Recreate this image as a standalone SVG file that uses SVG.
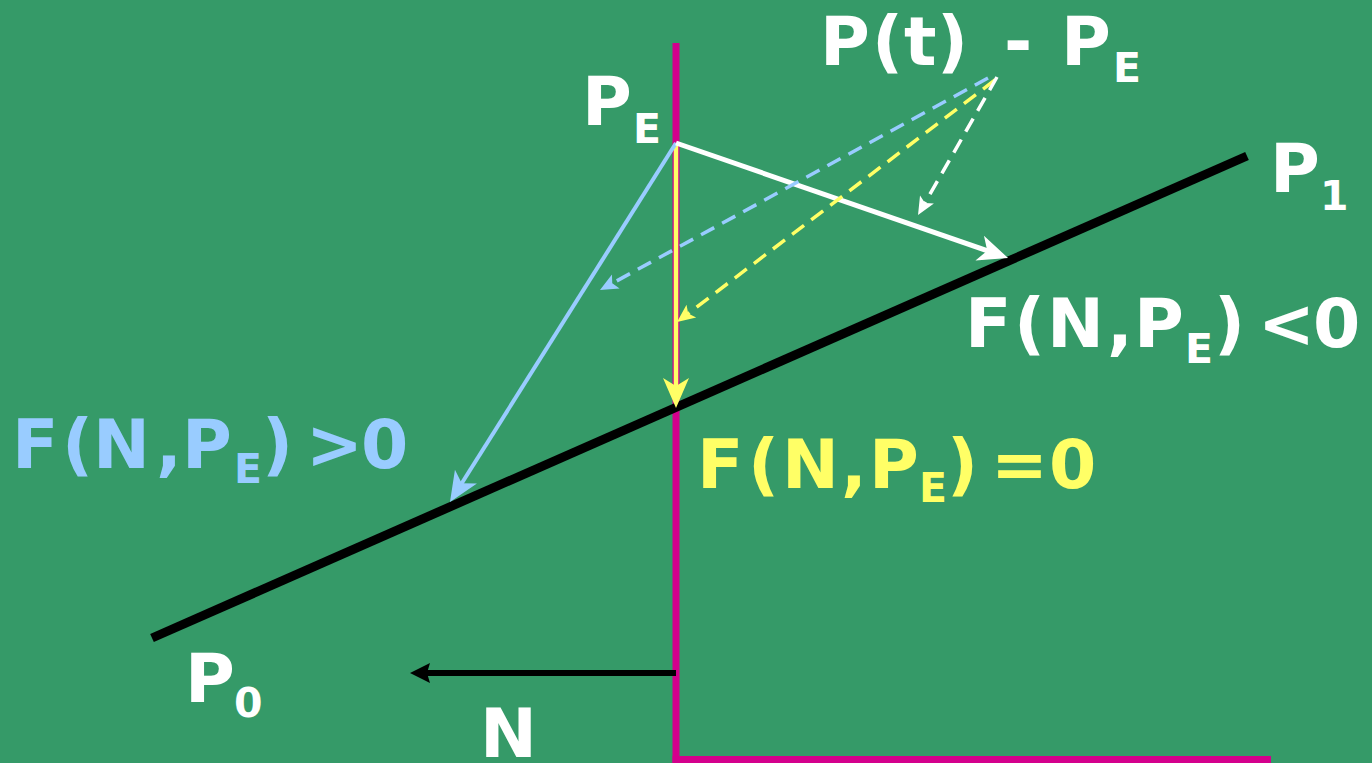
<svg xmlns="http://www.w3.org/2000/svg" width="1372" height="763" viewBox="0 0 1372 763">
<defs>
<style>
.t{font-family:"DejaVu Sans","Liberation Sans",sans-serif;font-weight:bold;font-size:68px}
.s{font-size:41px}
.w{fill:#ffffff}
.b{fill:#99ccff}
.y{fill:#ffff66}
.ln{fill:none}
.dash{stroke-dasharray:15 9;stroke-width:3.5}
</style>
<marker id="ahW" markerUnits="userSpaceOnUse" markerWidth="40" markerHeight="40" orient="auto" overflow="visible"><path d="M10,0 L-20,-13 L-12,0 L-20,13 Z" fill="#ffffff"/></marker>
<marker id="ahB" markerUnits="userSpaceOnUse" markerWidth="40" markerHeight="40" orient="auto" overflow="visible"><path d="M10,0 L-20,-13 L-12,0 L-20,13 Z" fill="#99ccff"/></marker>
<marker id="ahY" markerUnits="userSpaceOnUse" markerWidth="40" markerHeight="40" orient="auto" overflow="visible"><path d="M10,0 L-20,-13 L-12,0 L-20,13 Z" fill="#ffff66"/></marker>
<marker id="dhW" markerUnits="userSpaceOnUse" markerWidth="30" markerHeight="30" orient="auto" overflow="visible"><path d="M8,0 L-10,-8 L-6,0 L-10,8 Z" fill="#ffffff"/></marker>
<marker id="dhB" markerUnits="userSpaceOnUse" markerWidth="30" markerHeight="30" orient="auto" overflow="visible"><path d="M8,0 L-10,-8 L-6,0 L-10,8 Z" fill="#99ccff"/></marker>
<marker id="dhY" markerUnits="userSpaceOnUse" markerWidth="30" markerHeight="30" orient="auto" overflow="visible"><path d="M8,0 L-10,-8 L-6,0 L-10,8 Z" fill="#ffff66"/></marker>
<marker id="nh" markerUnits="userSpaceOnUse" markerWidth="30" markerHeight="30" orient="auto" overflow="visible"><path d="M10,0 L-10,-10 L-7,0 L-10,10 Z" fill="#000000"/></marker>
</defs>
<rect x="0" y="0" width="1372" height="763" fill="#359a68"/>

<g id="axes">
<line x1="676" y1="43" x2="676" y2="763" stroke="#d4008c" stroke-width="7"/>
<line x1="672.5" y1="759.5" x2="1271" y2="759.5" stroke="#d4008c" stroke-width="7"/>
</g>

<g id="edge-line">
<line x1="152" y1="638" x2="1247" y2="156" stroke="#000000" stroke-width="9"/>
</g>

<g id="connectors">
<line class="ln" x1="676" y1="143" x2="676" y2="398" stroke="#ffff66" stroke-width="4.5" marker-end="url(#ahY)"/>
<line class="ln" x1="676" y1="143" x2="455.3" y2="493.5" stroke="#99ccff" stroke-width="4" marker-end="url(#ahB)"/>
<line class="ln" x1="676" y1="143" x2="998.6" y2="254.7" stroke="#ffffff" stroke-width="5" marker-end="url(#ahW)"/>
<line class="ln" x1="676" y1="673" x2="420" y2="673" stroke="#000000" stroke-width="6" marker-end="url(#nh)"/>
<line class="ln dash" x1="988" y1="78" x2="607" y2="286.2" stroke="#99ccff" marker-end="url(#dhB)"/>
<line class="ln dash" x1="995" y1="80" x2="683.4" y2="317.2" stroke="#ffff66" marker-end="url(#dhY)"/>
<line class="ln dash" x1="997" y1="77" x2="922" y2="208.1" stroke="#ffffff" marker-end="url(#dhW)"/>
</g>

<g id="label-pt">
<text class="t w"><tspan x="820" y="65">P</tspan><tspan x="872" y="65">(</tspan><tspan x="904" y="65">t</tspan><tspan x="937" y="65">)</tspan><tspan x="1004" y="65">-</tspan><tspan x="1061" y="65">P</tspan><tspan class="s" x="1113" y="82">E</tspan></text>
</g>
<g id="label-pe">
<text class="t w"><tspan x="582" y="125">P</tspan><tspan class="s" x="633" y="143">E</tspan></text>
</g>
<g id="label-p1">
<text class="t w"><tspan x="1270" y="192">P</tspan><tspan class="s" x="1320" y="210">1</tspan></text>
</g>
<g id="label-p0">
<text class="t w"><tspan x="185" y="702">P</tspan><tspan class="s" x="234" y="717">0</tspan></text>
</g>
<g id="label-n">
<text class="t w" x="480" y="757">N</text>
</g>
<g id="label-lt">
<text class="t w"><tspan x="965" y="347">F</tspan><tspan x="1014" y="347">(</tspan><tspan x="1047" y="347">N</tspan><tspan x="1107" y="347">,</tspan><tspan x="1134" y="347">P</tspan><tspan class="s" x="1185" y="363">E</tspan><tspan x="1214" y="347">)</tspan><tspan x="1258" y="347">&lt;</tspan><tspan x="1313" y="347">0</tspan></text>
</g>
<g id="label-gt">
<text class="t b"><tspan x="12" y="468">F</tspan><tspan x="62" y="468">(</tspan><tspan x="93" y="468">N</tspan><tspan x="156" y="468">,</tspan><tspan x="182" y="468">P</tspan><tspan class="s" x="234" y="483">E</tspan><tspan x="262" y="468">)</tspan><tspan x="306" y="468">&gt;</tspan><tspan x="361" y="468">0</tspan></text>
</g>
<g id="label-eq">
<text class="t y"><tspan x="697" y="488">F</tspan><tspan x="748" y="488">(</tspan><tspan x="782" y="488">N</tspan><tspan x="841" y="488">,</tspan><tspan x="869" y="488">P</tspan><tspan class="s" x="919" y="502">E</tspan><tspan x="947" y="488">)</tspan><tspan x="991" y="488">=</tspan><tspan x="1049" y="488">0</tspan></text>
</g>
</svg>
